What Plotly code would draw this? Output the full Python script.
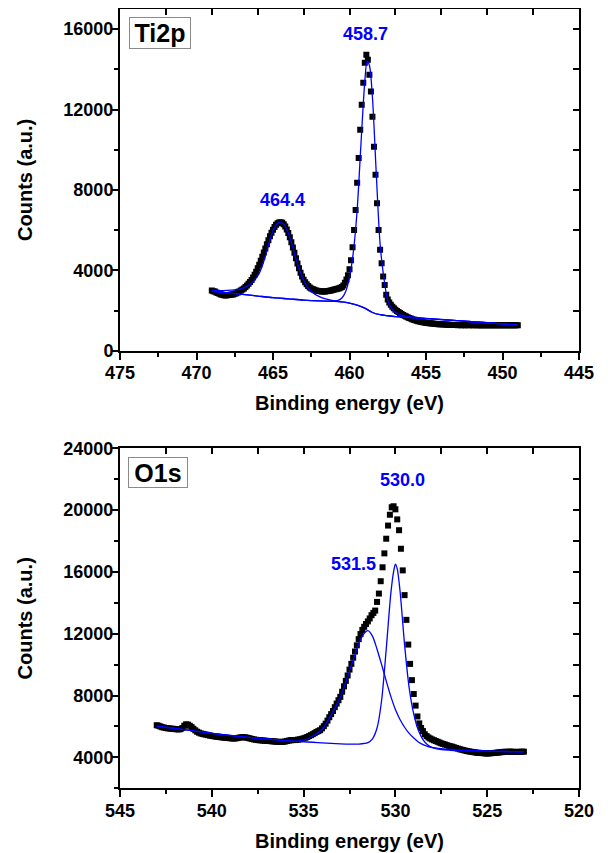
import plotly.graph_objects as go

# ---------------- Ti2p data (469.0 -> 449.0 eV, 0.1 eV step) ----------------
ti_start, ti_step = 469.0, 0.1
ti_counts = [
    2990, 2960, 2940, 2900, 2870, 2830, 2800, 2780, 2760, 2750,
    2760, 2770, 2780, 2790, 2800, 2830, 2860, 2900, 2950, 3000,
    3050, 3100, 3170, 3250, 3330, 3420, 3520, 3640, 3780, 3930,
    4100, 4280, 4470, 4670, 4880, 5090, 5300, 5500, 5700, 5870,
    6020, 6150, 6260, 6340, 6380, 6390, 6360, 6290, 6180, 6030,
    5850, 5640, 5400, 5140, 4870, 4600, 4340, 4100, 3880, 3690,
    3530, 3400, 3300, 3220, 3150, 3100, 3060, 3030, 3000, 2980,
    2970, 2960, 2950, 2950, 2950, 2960, 2970, 2980, 3000, 3020,
    3040, 3060, 3080, 3100, 3130, 3170, 3250, 3380, 3540, 3750,
    4050, 4500, 5150, 6000, 7000, 8350, 9590, 10990, 12240, 13330,
    14330, 14730, 14480, 13730, 12890, 11640, 10150, 8750, 7340, 6010,
    5020, 4350, 3690, 3270, 2780, 2550, 2400, 2280, 2190, 2110,
    2040, 1980, 1920, 1870, 1820, 1780, 1740, 1700, 1660, 1630,
    1600, 1570, 1540, 1510, 1490, 1470, 1450, 1430, 1410, 1400,
    1390, 1380, 1370, 1360, 1350, 1340, 1340, 1330, 1320, 1320,
    1310, 1310, 1300, 1300, 1290, 1290, 1290, 1280, 1280, 1280,
    1280, 1270, 1280, 1270, 1280, 1270, 1270, 1280, 1270, 1280,
    1270, 1270, 1280, 1270, 1270, 1260, 1270, 1270, 1260, 1270,
    1270, 1260, 1270, 1270, 1260, 1270, 1270, 1260, 1270, 1260,
    1270, 1270, 1260, 1270, 1270, 1260, 1270, 1260, 1270, 1260,
    1270,
]
ti_energy = [round(ti_start - ti_step * i, 1) for i in range(len(ti_counts))]

# Ti2p fit: background and two components (each on background)
ti_bg_x = [469, 468, 467, 466, 465, 464, 463, 462, 461, 460.5, 460, 459.5, 459,
           458.5, 458, 457.5, 457, 456, 455, 454, 453, 452, 451, 450, 449]
ti_bg_y = [2950, 2880, 2800, 2720, 2640, 2580, 2520, 2480, 2460, 2430, 2370, 2270, 2120,
           1900, 1790, 1740, 1700, 1650, 1600, 1550, 1500, 1440, 1390, 1330, 1280]

ti_c1_x = [469, 468.5, 468, 467.5, 467, 466.5, 466, 465.75, 465.5, 465.25, 465, 464.75,
           464.5, 464.25, 464, 463.75, 463.5, 463.25, 463, 462.75, 462.5, 462, 461.5,
           461, 460.5, 460, 459.5, 459, 458.5, 458, 457.5, 457, 456, 455, 454, 453,
           452, 451, 450, 449]
ti_c1_y = [3000, 2990, 3000, 3030, 3100, 3300, 3720, 4120, 4700, 5380, 5950, 6300,
           6400, 6250, 5850, 5250, 4580, 3980, 3520, 3180, 2950, 2700, 2560,
           2480, 2430, 2370, 2270, 2120, 1900, 1790, 1740, 1700, 1650, 1600, 1550, 1500,
           1440, 1390, 1330, 1280]

ti_c2_x = [469, 468, 467, 466, 465, 464, 463, 462, 461, 460.75, 460.5, 460.25, 460,
           459.75, 459.5, 459.25, 459, 458.85, 458.7, 458.5, 458.25, 458, 457.75,
           457.5, 457.25, 457, 456.5, 456, 455, 454, 453, 452, 451, 450, 449]
ti_c2_y = [2950, 2880, 2800, 2720, 2640, 2580, 2520, 2480, 2470, 2500, 2620, 2950, 3650,
           4900, 7000, 10300, 13400, 14400, 14200, 12600, 8800, 5300, 3600,
           2500, 2100, 1900, 1740, 1680, 1610, 1555, 1500, 1440, 1390, 1330, 1280]

# ---------------- O1s data (543.0 -> 523.0 eV, 0.1 eV step) ----------------
o_start, o_step = 543.0, 0.1
o_counts = [
    6080, 6050, 6000, 5950, 5930, 5900, 5880, 5870, 5860, 5850,
    5830, 5820, 5810, 5830, 5900, 6050, 6140, 6120, 6050, 5960,
    5850, 5750, 5660, 5600, 5550, 5520, 5490, 5470, 5440, 5410,
    5390, 5370, 5350, 5330, 5320, 5300, 5290, 5280, 5260, 5250,
    5240, 5230, 5220, 5230, 5250, 5280, 5300, 5310, 5300, 5280,
    5250, 5220, 5190, 5160, 5140, 5120, 5110, 5100, 5090, 5080,
    5070, 5060, 5050, 5040, 5030, 5020, 5010, 5000, 5000, 5010,
    5030, 5060, 5090, 5110, 5120, 5120, 5130, 5150, 5170, 5200,
    5230, 5270, 5320, 5380, 5440, 5500, 5570, 5640, 5700, 5760,
    5880, 6020, 6180, 6380, 6600, 6800, 7000, 7250, 7480, 7700,
    7920, 8250, 8600, 8950, 9300, 9680, 10050, 10450, 10850, 11250,
    11650, 11980, 12250, 12450, 12630, 12800, 12990, 13200, 13350, 13500,
    14060, 14600, 15400, 16300, 17200, 18150, 19000, 19700, 20180, 20250,
    20050, 19400, 18700, 17500, 16100, 14500, 12900, 11300, 10050, 9000,
    8100, 7350, 6650, 6200, 5900, 5700, 5500, 5380, 5290, 5220,
    5160, 5110, 5060, 5010, 4960, 4910, 4870, 4830, 4790, 4750,
    4720, 4690, 4650, 4610, 4570, 4530, 4500, 4470, 4440, 4410,
    4390, 4370, 4350, 4330, 4310, 4300, 4290, 4280, 4270, 4260,
    4250, 4260, 4270, 4280, 4290, 4300, 4320, 4330, 4340, 4360,
    4360, 4360, 4370, 4370, 4360, 4360, 4350, 4360, 4360, 4370,
    4370,
]
o_energy = [round(o_start - o_step * i, 1) for i in range(len(o_counts))]

# O1s fit components (each on background)
o_c1_x = [543, 542, 541, 540, 539, 538, 537, 536, 535.5, 535, 534.5, 534, 533.5, 533,
          532.75, 532.5, 532.25, 532, 531.75, 531.5, 531.25, 531, 530.75, 530.5,
          530.25, 530, 529.75, 529.5, 529.25, 529, 528.75, 528.5, 528.25, 528, 527.5,
          527, 526, 525, 524, 523]
o_c1_y = [6030, 5870, 5720, 5560, 5420, 5290, 5190, 5080, 5050, 5100, 5380, 5800, 6750, 7900,
          8700, 9600, 10500, 11350, 11950, 12200, 11850, 11000, 10000, 8950,
          7950, 7100, 6450, 5950, 5550, 5250, 5000, 4830, 4720, 4640, 4560,
          4510, 4450, 4410, 4380, 4360]

o_c2_x = [543, 542, 541, 540, 539, 538, 537, 536, 535, 534.5, 534, 533, 532.5, 532, 531.5,
          531.25, 531, 530.75, 530.5, 530.25, 530.1, 530, 529.9, 529.75, 529.5, 529.25,
          529, 528.75, 528.5, 528.25, 528, 527.5, 527, 526, 525, 524, 523]
o_c2_y = [6030, 5870, 5720, 5560, 5420, 5290, 5190, 5080, 5010, 4980, 4940, 4880, 4860, 4860,
          4950, 5200, 5900, 7700, 11000, 14600, 16000, 16500, 16200, 14800, 11300, 8500,
          6800, 5750, 5150, 4820, 4640, 4500, 4460, 4420, 4400, 4380, 4360]

# Peak labels
ti_labels = [("458.7", 458.97, 15775), ("464.4", 464.41, 7507)]
o_labels = [("530.0", 529.62, 21920), ("531.5", 532.28, 16492)]

FONT = "Arial, Liberation Sans, sans-serif"
BLUE = "#0000FF"
# the page body has an 8 px margin, so the figure is drawn 8 px in from the window corner
OFF = 8
W, H = 608 - OFF, 853 - OFF

def px(v):
    return (v - OFF) / W

def py(v):
    return 1 - (v - OFF) / H

fig = go.Figure()

# Ti2p
fig.add_trace(go.Scatter(x=ti_energy, y=ti_counts, mode="markers", xaxis="x", yaxis="y",
                         marker=dict(symbol="square", size=6, color="black"), hoverinfo="skip"))
for xs, ys in [(ti_bg_x, ti_bg_y), (ti_c1_x, ti_c1_y), (ti_c2_x, ti_c2_y)]:
    fig.add_trace(go.Scatter(x=xs, y=ys, mode="lines", xaxis="x", yaxis="y",
                             line=dict(color=BLUE, width=1.3, shape="spline", smoothing=0.8),
                             hoverinfo="skip"))
# O1s
fig.add_trace(go.Scatter(x=o_energy, y=o_counts, mode="markers", xaxis="x2", yaxis="y2",
                         marker=dict(symbol="square", size=6, color="black"), hoverinfo="skip"))
for xs, ys in [(o_c1_x, o_c1_y), (o_c2_x, o_c2_y)]:
    fig.add_trace(go.Scatter(x=xs, y=ys, mode="lines", xaxis="x2", yaxis="y2",
                             line=dict(color=BLUE, width=1.3, shape="spline", smoothing=0.8),
                             hoverinfo="skip"))

# empty traces so the frame axes (top/right) get drawn
for xa, ya in [("x3", "y"), ("x", "y3"), ("x4", "y2"), ("x2", "y4")]:
    fig.add_trace(go.Scatter(x=[], y=[], xaxis=xa, yaxis=ya, hoverinfo="skip"))

xdom = [px(120), px(579)]
ydom_top = [py(350.7), py(9)]
ydom_bot = [py(788.3), py(448.3)]

tickfont = dict(family=FONT, size=18, color="black", weight="bold")
titlefont = dict(family=FONT, size=20, color="black", weight="bold")

def main_x(rng, anchor, title):
    return dict(domain=xdom, anchor=anchor, range=rng, tick0=0, dtick=5,
                ticks="outside", ticklen=7, tickwidth=2, tickcolor="black",
                showline=True, linewidth=2, linecolor="black", mirror=False,
                showgrid=False, zeroline=False, tickfont=tickfont, automargin=False,
                ticklabelstandoff=-2,
                minor=dict(ticks="outside", ticklen=4, tickwidth=2, tickcolor="black", dtick=2.5, tick0=0, showgrid=False),
                title=dict(text=title, font=titlefont, standoff=14))

def main_y(rng, dom, anchor, dt):
    return dict(domain=dom, anchor=anchor, range=rng, tick0=0, dtick=dt, tickformat="d",
                ticks="outside", ticklen=7, tickwidth=2, tickcolor="black",
                showline=True, linewidth=2, linecolor="black",
                showgrid=False, zeroline=False, tickfont=tickfont, automargin=False,
                ticklabelstandoff=-6,
                minor=dict(ticks="outside", ticklen=4, tickwidth=2, tickcolor="black", dtick=dt / 2, tick0=0, showgrid=False),
                title=dict(text="Counts (a.u.)", font=titlefont, standoff=25))

def top_x(overlay, anchor):
    return dict(overlaying=overlay, anchor=anchor, side="top", range=[0, 10],
                tickmode="array", tickvals=[1, 2, 3, 4, 5, 6, 7, 8, 9],
                ticks="inside", ticklen=6, tickwidth=2, tickcolor="black",
                showticklabels=False, showline=True, linewidth=2, linecolor="black",
                showgrid=False, zeroline=False, automargin=False)

def right_y(overlay, anchor, rng):
    return dict(overlaying=overlay, anchor=anchor, side="right", range=rng,
                tick0=0, dtick=2000, ticks="inside", ticklen=6, tickwidth=2, tickcolor="black",
                showticklabels=False, showline=True, linewidth=2, linecolor="black",
                showgrid=False, zeroline=False, automargin=False)

boxfont = dict(family=FONT, size=25, color="black", weight="bold")
annotations = [
    dict(text="Ti2p", xref="paper", yref="paper", x=px(129), y=py(16.7),
         xanchor="left", yanchor="top", showarrow=False, font=boxfont,
         width=60, height=30, align="center", valign="middle",
         bordercolor="#8a8a8a", borderwidth=1, borderpad=0, bgcolor="white"),
    dict(text="O1s", xref="paper", yref="paper", x=px(127.7), y=py(456.7),
         xanchor="left", yanchor="top", showarrow=False, font=boxfont,
         width=58, height=29, align="center", valign="middle",
         bordercolor="#8a8a8a", borderwidth=1, borderpad=0, bgcolor="white"),
]
for t, x, y in ti_labels:
    annotations.append(dict(text=t, x=x, y=y, xref="x", yref="y", showarrow=False,
                            font=dict(family=FONT, size=18, color=BLUE, weight="bold")))
for t, x, y in o_labels:
    annotations.append(dict(text=t, x=x, y=y, xref="x2", yref="y2", showarrow=False,
                            font=dict(family=FONT, size=18, color=BLUE, weight="bold")))

fig.update_layout(
    width=W, height=H, margin=dict(l=0, r=0, t=0, b=0, autoexpand=False),
    paper_bgcolor="white", plot_bgcolor="white", showlegend=False,
    xaxis=main_x([475, 445], "y", "Binding energy (eV)"),
    yaxis=main_y([0, 17000], ydom_top, "x", 4000),
    xaxis2=main_x([545, 520], "y2", "Binding energy (eV)"),
    yaxis2=main_y([2000, 24000], ydom_bot, "x2", 4000),
    xaxis3=top_x("x", "y"),
    yaxis3=right_y("y", "x", [0, 17000]),
    xaxis4=top_x("x2", "y2"),
    yaxis4=right_y("y2", "x2", [2000, 24000]),
    annotations=annotations,
)

fig.write_html("out.html")
